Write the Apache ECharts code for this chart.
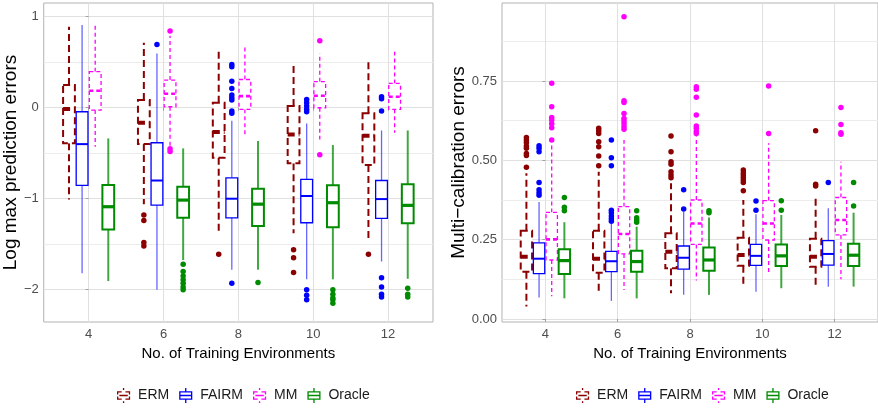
<!DOCTYPE html>
<html>
<head>
<meta charset="utf-8">
<script src="https://cdn.jsdelivr.net/npm/echarts@6/dist/echarts.min.js"></script>
<style>html,body{margin:0;padding:0;background:#fff}#c{width:878px;height:408px}</style>
</head>
<body>
<div id="c"></div>
<script>
// ---------- data ----------
const categories = ['4', '6', '8', '10', '12'];
const methods = ['ERM', 'FAIRM', 'MM', 'Oracle'];
const leftYTicks = [-2, -1, 0, 1];
const leftYMinor = [-1.5, -0.5, 0.5];
const rightYTicks = [0, 0.25, 0.5, 0.75];
const rightYMinor = [0.125, 0.375, 0.625, 0.875];

// box stats per category: [lower whisker, q1, median, q3, upper whisker]
const logERM = [[-1.01,-0.39,-0.015,0.25,0.89],[-1.06,-0.40,-0.165,0.084,0.714],[-1.36,-0.55,-0.267,0.055,0.66],[-1.38,-0.61,-0.293,0.018,0.476],[-1.45,-0.63,-0.308,-0.062,0.542]];
const logFAIRM = [[-1.82,-0.853,-0.40,-0.044,0.91],[-2.00,-1.07,-0.80,-0.385,0.597],[-1.78,-1.21,-1.00,-0.77,-0.143],[-1.886,-1.264,-0.97,-0.787,-0.172],[-1.69,-1.216,-1.004,-0.80,-0.25]];
const logMM = [[-0.43,-0.026,0.187,0.396,0.91],[-0.43,0.011,0.154,0.304,0.79],[-0.30,-0.018,0.128,0.31,0.67],[-0.348,0.0,0.132,0.286,0.597],[-0.275,-0.018,0.12,0.267,0.615]];
const logOracle = [[-1.905,-1.337,-1.088,-0.85,-0.337],[-1.674,-1.209,-1.015,-0.868,-0.447],[-1.78,-1.30,-1.06,-0.89,-0.366],[-1.886,-1.315,-1.044,-0.853,-0.41],[-1.88,-1.27,-1.073,-0.84,-0.25]];

const logOutERM = [[],[-1.18,-1.24,-1.48,-1.52],[-1.61],[-1.56,-1.65,-1.81],[-1.61]];
const logOutFAIRM = [[],[0.696],[0.476,0.45,0.29,0.21,0.14,0.11,0.084,-0.037,-0.062,-1.93],[0.09,0.055,0.018,-0.018,-0.044,-2.00,-2.06,-2.11],[0.12,0.10,-0.037,-1.87,-1.97,-2.05,-2.08]];
const logOutMM = [[],[0.842,-0.45,-0.48],[],[0.736,-0.516],[]];
const logOutOracle = [[],[-1.72,-1.80,-1.85,-1.89,-1.93,-1.97,-2.00],[-1.92],[-2.00,-2.05,-2.09,-2.11,-2.15],[-1.985,-2.05,-2.08]];

const mcERM = [[0.039,0.149,0.196,0.278,0.459],[0.076,0.146,0.19,0.278,0.464],[0.081,0.16,0.212,0.27,0.428],[0.10,0.168,0.202,0.256,0.375],[0.105,0.165,0.196,0.253,0.386]];
const mcFAIRM = [[0.068,0.143,0.19,0.24,0.369],[0.057,0.149,0.182,0.213,0.30],[0.076,0.157,0.193,0.23,0.338],[0.086,0.169,0.199,0.235,0.33],[0.102,0.17,0.205,0.247,0.349]];
const mcMM = [[0.072,0.186,0.251,0.336,0.548],[0.091,0.205,0.268,0.354,0.564],[0.121,0.235,0.301,0.375,0.575],[0.146,0.249,0.301,0.373,0.554],[0.125,0.265,0.312,0.383,0.496]];
const mcOracle = [[0.065,0.142,0.184,0.22,0.305],[0.065,0.149,0.181,0.215,0.291],[0.076,0.152,0.186,0.225,0.32],[0.097,0.167,0.199,0.235,0.328],[0.102,0.167,0.201,0.237,0.335]];

const mcOutERM = [[0.572,0.564,0.556,0.545,0.538,0.522,0.515,0.478],[0.601,0.593,0.585,0.559,0.543,0.514,0.483],[0.577,0.527,0.496,0.488,0.464,0.454,0.445],[0.47,0.461,0.454,0.446,0.438,0.43,0.404],[0.593,0.425,0.419]];
const mcOutFAIRM = [[0.546,0.538,0.527,0.43,0.407,0.398,0.39],[0.564,0.508,0.483,0.343,0.335,0.325,0.316,0.308],[0.407,0.347],[0.372,0.343],[0.43]];
const mcOutMM = [[0.743,0.669,0.635,0.627,0.615,0.603,0.564],[0.953,0.688,0.682,0.648,0.632,0.624,0.615,0.606,0.598],[0.732,0.724,0.699,0.643,0.608,0.601,0.592,0.585],[0.734,0.585],[0.667,0.613,0.587,0.582]];
const mcOutOracle = [[0.383,0.352,0.341],[0.341,0.319,0.312,0.305],[0.341,0.335],[0.373,0.343],[0.43,0.356]];

// ---------- styling ----------
const FONT = '"Liberation Sans", Arial, Helvetica, sans-serif';
const colors = { ERM: '#8B0000', FAIRM: '#0000FF', MM: '#FF00FF', Oracle: '#008B00' };
const dodge = { ERM: -0.2625, FAIRM: -0.0875, MM: 0.0875, Oracle: 0.2625 };
const BOX_W = 0.1575;
const styles = {
  ERM:    { lw: 2,   medLw: 4,   dash: [7, 4], whiskOp: 1 },
  FAIRM:  { lw: 1.3, medLw: 2,   dash: null,   whiskOp: 0.6 },
  MM:     { lw: 1.3, medLw: 2.6, dash: [4, 3], whiskOp: 1 },
  Oracle: { lw: 2,   medLw: 3.2, dash: null,   whiskOp: 0.75 }
};

function boxRender(m) {
  const st = styles[m], col = colors[m], off = dodge[m];
  return function (params, api) {
    const xc = api.value(0) + off;
    const pMin = api.coord([xc, api.value(1)]);
    const pQ1 = api.coord([xc - BOX_W / 2, api.value(2)]);
    const pMed = api.coord([xc - BOX_W / 2, api.value(3)]);
    const pQ3 = api.coord([xc - BOX_W / 2, api.value(4)]);
    const pMax = api.coord([xc, api.value(5)]);
    const pR = api.coord([xc + BOX_W / 2, api.value(3)]);
    const lineStyle = { stroke: col, lineWidth: st.lw, lineDash: st.dash, fill: null };
    const whisk = Object.assign({}, lineStyle, { opacity: st.whiskOp });
    return {
      type: 'group',
      children: [
        { type: 'line', shape: { x1: pMax[0], y1: pQ3[1], x2: pMax[0], y2: pMax[1] }, style: whisk },
        { type: 'line', shape: { x1: pMin[0], y1: pQ1[1], x2: pMin[0], y2: pMin[1] }, style: whisk },
        { type: 'rect', shape: { x: pQ3[0], y: pQ3[1], width: pR[0] - pQ3[0], height: pQ1[1] - pQ3[1] },
          style: { fill: '#ffffff', stroke: col, lineWidth: st.lw, lineDash: st.dash } },
        { type: 'line', shape: { x1: pMed[0], y1: pMed[1], x2: pR[0], y2: pMed[1] },
          style: { stroke: col, lineWidth: st.medLw, lineDash: st.dash } }
      ]
    };
  };
}

const solidIcon = 'path://M7.3,0H8.7V3.5H7.3Z M1,3.5H15V12.5H1Z M2.4,4.9V11.1H13.6V4.9Z M2.4,7.3H13.6V8.7H2.4Z M7.3,12.5H8.7V16H7.3Z';
const dashIcon = 'path://M7.3,0H8.7V2H7.3Z M1,3.5H6V4.9H2.4V7H1Z M10,3.5H15V7H13.6V4.9H10Z M1,9H2.4V11.1H6V12.5H1Z M13.6,9H15V12.5H10V11.1H13.6Z M3.5,7.3H12.5V8.7H3.5Z M7.3,14H8.7V16H7.3Z';
const icons = { ERM: dashIcon, FAIRM: solidIcon, MM: dashIcon, Oracle: solidIcon };

const panels = [
  { stats: { ERM: logERM, FAIRM: logFAIRM, MM: logMM, Oracle: logOracle },
    outs: { ERM: logOutERM, FAIRM: logOutFAIRM, MM: logOutMM, Oracle: logOutOracle } },
  { stats: { ERM: mcERM, FAIRM: mcFAIRM, MM: mcMM, Oracle: mcOracle },
    outs: { ERM: mcOutERM, FAIRM: mcOutFAIRM, MM: mcOutMM, Oracle: mcOutOracle } }
];

const series = [];
panels.forEach((p, pi) => {
  methods.forEach(m => {
    series.push({
      name: m, type: 'custom', xAxisIndex: pi, yAxisIndex: pi * 2,
      itemStyle: { color: colors[m] },
      renderItem: boxRender(m),
      encode: { x: 0, y: [1, 2, 3, 4, 5] },
      data: p.stats[m].map((s, i) => [i].concat(s)),
      z: 3
    });
  });
  methods.forEach(m => {
    const pts = [];
    p.outs[m].forEach((vals, i) => vals.forEach(v => pts.push([i + dodge[m], v])));
    series.push({
      name: m, type: 'scatter', xAxisIndex: pi, yAxisIndex: pi * 2,
      symbol: 'circle', symbolSize: 5.5,
      itemStyle: { color: colors[m], opacity: 1 },
      data: pts, z: 4
    });
  });
});

const catIdx = categories.map((c, i) => i);
function xAxis(gi) {
  return {
    type: 'value', gridIndex: gi, min: -0.6, max: 4.6,
    axisLine: { show: false },
    axisTick: { show: true, customValues: catIdx, length: 3, lineStyle: { color: '#a0a0a0', width: 1 } },
    axisLabel: { customValues: catIdx, formatter: v => categories[Math.round(v)], color: '#4d4d4d', fontSize: 13, fontFamily: FONT, margin: 6 },
    splitLine: { show: true, lineStyle: { color: '#e0e0e0', width: 1 } },
    name: 'No. of Training Environments', nameLocation: 'middle', nameGap: 23,
    nameTextStyle: { color: '#000', fontSize: 15, fontFamily: FONT }
  };
}
function yMain(gi, min, max, ticks, fmt, name, gap) {
  return {
    type: 'value', gridIndex: gi, min: min, max: max,
    axisLine: { show: false },
    axisTick: { show: true, customValues: ticks, length: 3, lineStyle: { color: '#a0a0a0', width: 1 } },
    axisLabel: { customValues: ticks, formatter: fmt, color: '#4d4d4d', fontSize: 13, fontFamily: FONT, margin: 5 },
    splitLine: { show: true, lineStyle: { color: '#e0e0e0', width: 1 } },
    name: name, nameLocation: 'middle', nameRotate: 90, nameGap: gap,
    nameTextStyle: { color: '#000', fontSize: 19, fontFamily: FONT }
  };
}
function yMinor(gi, min, max, ticks) {
  return {
    type: 'value', gridIndex: gi, min: min, max: max,
    axisLine: { show: false }, axisTick: { show: false, customValues: ticks },
    axisLabel: { show: false, customValues: ticks },
    splitLine: { show: true, lineStyle: { color: '#ececec', width: 1 } }
  };
}

const legendBase = {
  orient: 'horizontal', top: 388, padding: 0, itemWidth: 15, itemHeight: 15, itemGap: 10,
  textStyle: { color: '#1a1a1a', fontSize: 14, fontFamily: FONT, padding: [0, 0, 0, 2] },
  selectedMode: false,
  data: methods.map(m => ({ name: m, icon: icons[m], itemStyle: { color: colors[m], borderWidth: 0 } }))
};

const option = {
  animation: false,
  backgroundColor: '#ffffff',
  grid: [
    { left: 43, top: 3, width: 390, height: 319, show: true, borderColor: '#b3b3b3', borderWidth: 1, backgroundColor: '#fff' },
    { left: 502, top: 3, width: 380, height: 319, show: true, borderColor: '#b3b3b3', borderWidth: 1, backgroundColor: '#fff' }
  ],
  xAxis: [xAxis(0), xAxis(1)],
  yAxis: [
    yMain(0, -2.355, 1.151, leftYTicks, v => (v < 0 ? '\u2212' + Math.abs(v) : String(v)), 'Log max prediction errors', 22),
    yMinor(0, -2.355, 1.151, leftYMinor),
    yMain(1, -0.0095, 0.996, rightYTicks, v => v.toFixed(2), 'Multi\u2212calibration errors', 32),
    yMinor(1, -0.0095, 0.996, rightYMinor)
  ],
  legend: [
    Object.assign({}, legendBase, { left: 117 }),
    Object.assign({}, legendBase, { left: 576 })
  ],
  series: series
};

const chart = echarts.init(document.getElementById('c'), null, { renderer: 'canvas' });
chart.setOption(option);
</script>
</body>
</html>
